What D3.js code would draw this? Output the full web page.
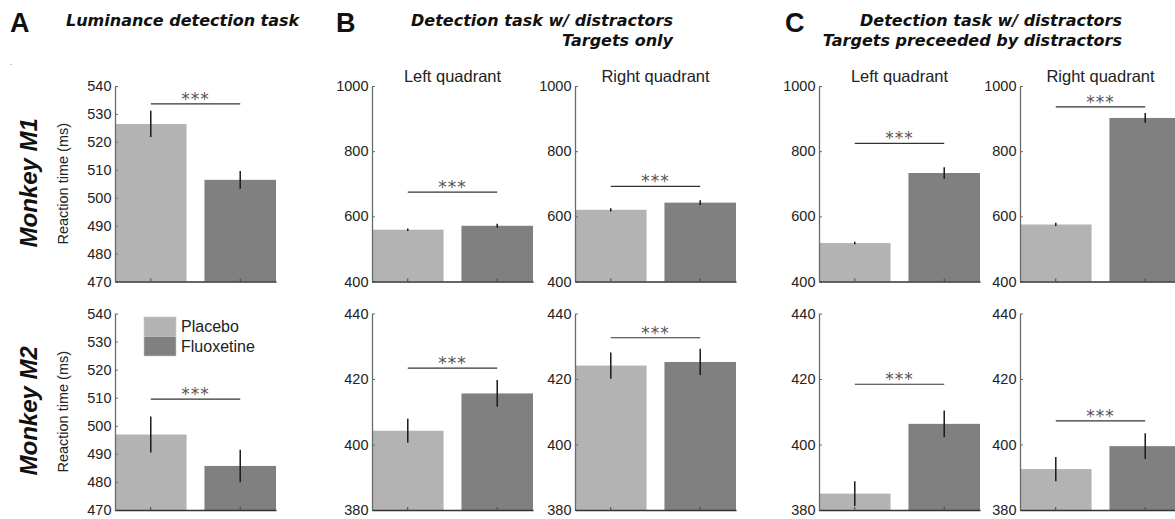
<!DOCTYPE html>
<html>
<head>
<meta charset="utf-8">
<script src="https://cdn.jsdelivr.net/npm/d3@7"></script>
<style>
  body { margin: 0; background: #fff; }
  svg { display: block; font-family: "Liberation Sans", Arial, sans-serif; }
</style>
</head>
<body>
<div id="chart"></div>
<script>
const groups = ["Placebo", "Fluoxetine"];
const barColors = ["#b3b3b3", "#808080"];

// A: luminance detection task
const lumM1 = [526.4, 506.4];
const lumM1Err = [4.7, 3.2];
const lumM2 = [496.9, 485.7];
const lumM2Err = [6.4, 5.8];

// B: detection w/ distractors, targets only
const tgtLeftM1 = [559, 571];
const tgtLeftM1Err = [4, 6];
const tgtRightM1 = [620, 642];
const tgtRightM1Err = [5, 7];
const tgtLeftM2 = [404.2, 415.6];
const tgtLeftM2Err = [3.7, 4.1];
const tgtRightM2 = [424.1, 425.2];
const tgtRightM2Err = [4.0, 4.0];

// C: targets preceeded by distractors
const dstLeftM1 = [518, 733];
const dstLeftM1Err = [4, 18];
const dstRightM1 = [575, 902];
const dstRightM1Err = [5, 15];
const dstLeftM2 = [385, 406.3];
const dstLeftM2Err = [3.8, 4.1];
const dstRightM2 = [392.5, 399.5];
const dstRightM2Err = [3.7, 3.9];

// height of the *** bracket, per panel
const sigM1 = [533.6, 674, 692, 824, 936];
const sigM2 = [509.5, 423.3, 432.6, 418.4, 407.2];

const ticksLum = [470, 480, 490, 500, 510, 520, 530, 540];
const ticksM1 = [400, 600, 800, 1000];
const ticksM2 = [380, 400, 420, 440];

const svg = d3.select("#chart").append("svg")
    .attr("width", 1175)
    .attr("height", 519);

const plotW = 161;
const rowY = [[86, 281.5], [313.5, 510]];
const colX = [115, 372, 575, 819, 1020];

const x = d3.scaleBand().domain(groups).range([0, plotW]).paddingInner(0.2).paddingOuter(0);

function drawPanel(col, row, means, errs, ticks, sig, subtitle) {
    const [top, bottom] = rowY[row];
    const g = svg.append("g").attr("transform", `translate(${colX[col]},0)`);
    const y = d3.scaleLinear().domain([ticks[0], ticks[ticks.length - 1]]).range([bottom, top]);
    const base = ticks[0];

    g.selectAll("rect.bar").data(means).join("rect")
        .attr("class", "bar")
        .attr("x", (d, i) => x(groups[i]))
        .attr("width", x.bandwidth())
        .attr("y", d => y(d))
        .attr("height", d => y(base) - y(d))
        .attr("fill", (d, i) => barColors[i]);

    // error bars
    g.selectAll("line.err").data(means).join("line")
        .attr("class", "err")
        .attr("x1", (d, i) => x(groups[i]) + x.bandwidth() / 2)
        .attr("x2", (d, i) => x(groups[i]) + x.bandwidth() / 2)
        .attr("y1", (d, i) => y(d - errs[i]))
        .attr("y2", (d, i) => y(d + errs[i]))
        .attr("stroke", "#1a1a1a")
        .attr("stroke-width", 1.5);

    // y axis, ticks pointing inward like matlab
    const ya = g.append("g")
        .call(d3.axisLeft(y).tickValues(ticks).tickSizeInner(-3).tickSizeOuter(0).tickPadding(3.5).tickFormat(d3.format("d")));
    ya.select(".domain").attr("stroke", "#6a6a6a").attr("stroke-width", 1.3);
    ya.selectAll(".tick line").attr("stroke", "#6a6a6a");
    ya.selectAll("text").attr("font-size", 14.5).attr("fill", "#222").attr("font-family", "Liberation Sans, Arial, sans-serif");

    const xa = g.append("g").attr("transform", `translate(0,${bottom})`)
        .call(d3.axisBottom(x).tickSizeInner(-3).tickSizeOuter(0).tickFormat(""));
    xa.select(".domain").attr("stroke", "#333").attr("stroke-width", 1.3);
    xa.selectAll(".tick line").attr("stroke", "#444");

    // significance bracket
    const cx0 = x(groups[0]) + x.bandwidth() / 2;
    const cx1 = x(groups[1]) + x.bandwidth() / 2;
    g.append("line")
        .attr("x1", cx0).attr("x2", cx1)
        .attr("y1", y(sig)).attr("y2", y(sig))
        .attr("stroke", "#333").attr("stroke-width", 1.2);
    g.append("text")
        .attr("x", (cx0 + cx1) / 2)
        .attr("y", y(sig) + 1)
        .attr("text-anchor", "middle")
        .attr("font-family", "DejaVu Sans, sans-serif")
        .attr("font-size", 17)
        .attr("letter-spacing", 1)
        .attr("fill", "#555")
        .text("***");

    if (subtitle) {
        g.append("text")
            .attr("x", plotW / 2)
            .attr("y", top - 4)
            .attr("text-anchor", "middle")
            .attr("font-size", 16.5)
            .attr("fill", "#222")
            .text(subtitle);
    }
}

drawPanel(0, 0, lumM1, lumM1Err, ticksLum, sigM1[0]);
drawPanel(0, 1, lumM2, lumM2Err, ticksLum, sigM2[0]);
drawPanel(1, 0, tgtLeftM1, tgtLeftM1Err, ticksM1, sigM1[1], "Left quadrant");
drawPanel(2, 0, tgtRightM1, tgtRightM1Err, ticksM1, sigM1[2], "Right quadrant");
drawPanel(1, 1, tgtLeftM2, tgtLeftM2Err, ticksM2, sigM2[1]);
drawPanel(2, 1, tgtRightM2, tgtRightM2Err, ticksM2, sigM2[2]);
drawPanel(3, 0, dstLeftM1, dstLeftM1Err, ticksM1, sigM1[3], "Left quadrant");
drawPanel(4, 0, dstRightM1, dstRightM1Err, ticksM1, sigM1[4], "Right quadrant");
drawPanel(3, 1, dstLeftM2, dstLeftM2Err, ticksM2, sigM2[3]);
drawPanel(4, 1, dstRightM2, dstRightM2Err, ticksM2, sigM2[4]);

// legend (inside the M2 luminance panel)
const legend = svg.append("g").attr("transform", "translate(144,317)");
groups.forEach((name, i) => {
    legend.append("rect")
        .attr("x", 0).attr("y", i * 19.5)
        .attr("width", 32).attr("height", 19.5)
        .attr("fill", barColors[i])
        .attr("stroke", "#c8c8c8").attr("stroke-width", 0.6);
    legend.append("text")
        .attr("x", 37).attr("y", i * 19.5 + 15)
        .attr("font-size", 16).attr("fill", "#222")
        .text(name);
});

// panel letters and headings
const letters = [["A", 10], ["B", 336], ["C", 785]];
letters.forEach(([t, lx]) => {
    svg.append("text").attr("x", lx).attr("y", 32)
        .attr("font-size", 27).attr("font-weight", "bold").attr("fill", "#111")
        .text(t);
});

function heading(lines, xPos, anchor) {
    lines.forEach((t, i) => {
        svg.append("text")
            .attr("x", xPos).attr("y", 26 + i * 19.5)
            .attr("text-anchor", anchor)
            .attr("font-family", "DejaVu Sans, Verdana, sans-serif")
            .attr("font-weight", "bold").attr("font-style", "italic")
            .attr("font-size", 16).attr("fill", "#111")
            .text(t);
    });
}
heading(["Luminance detection task"], 66, "start");
heading(["Detection task w/ distractors", "Targets only"], 673, "end");
heading(["Detection task w/ distractors", "Targets preceeded by distractors"], 1122, "end");

// row labels
const rowNames = ["Monkey M1", "Monkey M2"];
rowNames.forEach((t, i) => {
    const cy = (rowY[i][0] + rowY[i][1]) / 2;
    svg.append("text")
        .attr("transform", `translate(37,${cy - 1}) rotate(-90)`)
        .attr("text-anchor", "middle")
        .attr("font-size", 24).attr("font-weight", "bold").attr("font-style", "italic")
        .attr("fill", "#111")
        .text(t);
    svg.append("text")
        .attr("transform", `translate(68,${cy}) rotate(-90)`)
        .attr("text-anchor", "middle")
        .attr("font-size", 14.5).attr("fill", "#222")
        .text("Reaction time (ms)");
});

svg.append("text").attr("x", 10).attr("y", 65).attr("font-size", 8).attr("fill", "#444").text(".");
</script>
</body>
</html>
